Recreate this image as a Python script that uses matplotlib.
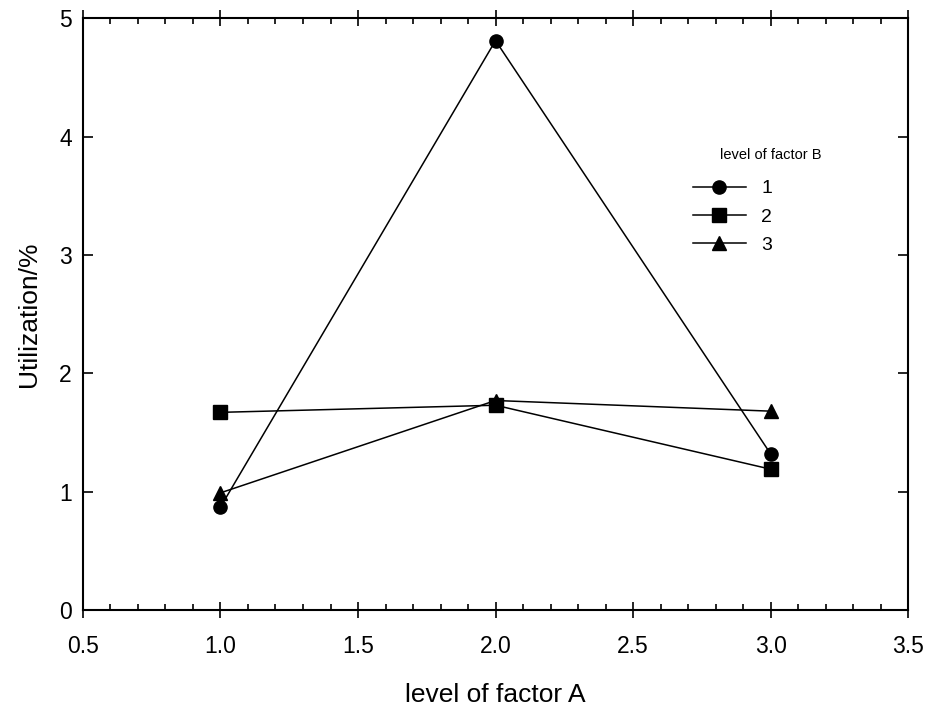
import matplotlib
matplotlib.use("Agg")
import matplotlib.pyplot as plt
from matplotlib.ticker import MultipleLocator

plt.rcParams['font.family'] = ['Liberation Sans', 'DejaVu Sans']

# --- data ---
factor_a = [1.0, 2.0, 3.0]
b_levels = ['1', '2', '3']
b1 = [0.87, 4.81, 1.32]
b2 = [1.67, 1.73, 1.19]
b3 = [0.99, 1.77, 1.68]

fig = plt.figure(figsize=(9.25, 7.11), dpi=100)
ax = fig.add_axes([0.0897, 0.142, 0.892, 0.8325])

series = [b1, b2, b3]
markers = ['o', 's', '^']
for vals, mk, lab in zip(series, markers, b_levels):
    ax.plot(factor_a, vals, color='black', lw=1.1, marker=mk, ms=9.5, label=lab)

ax.set_xlim(0.5, 3.5)
ax.set_ylim(0, 5)
ax.xaxis.set_major_locator(MultipleLocator(0.5))
ax.xaxis.set_minor_locator(MultipleLocator(0.1))
ax.yaxis.set_major_locator(MultipleLocator(1))
ax.xaxis.set_major_formatter(matplotlib.ticker.FormatStrFormatter('%.1f'))

ax.tick_params(axis='x', which='major', direction='inout', length=12, width=1.2,
               top=True, labelsize=16.5, pad=12)
ax.tick_params(axis='x', which='minor', direction='in', length=4, width=1.2, top=True)
ax.tick_params(axis='y', which='major', direction='in', length=7, width=1.2,
               right=True, labelsize=16.5, pad=8)
for s in ax.spines.values():
    s.set_linewidth(1.5)

ax.set_xlabel('level of factor A', fontsize=19, labelpad=18)
ax.set_ylabel('Utilization/%', fontsize=19, labelpad=13)

# legend title sits right of the handles, so draw it separately
ax.text(0.772, 0.769, 'level of factor B', transform=ax.transAxes, fontsize=10.5,
        ha='left', va='center')
ax.legend(loc='upper left', bbox_to_anchor=(0.739, 0.727), frameon=False,
          fontsize=14, handlelength=2.73, handletextpad=0.8, labelspacing=0.55,
          borderpad=0, borderaxespad=0)

fig.savefig('out.png', dpi=100)
